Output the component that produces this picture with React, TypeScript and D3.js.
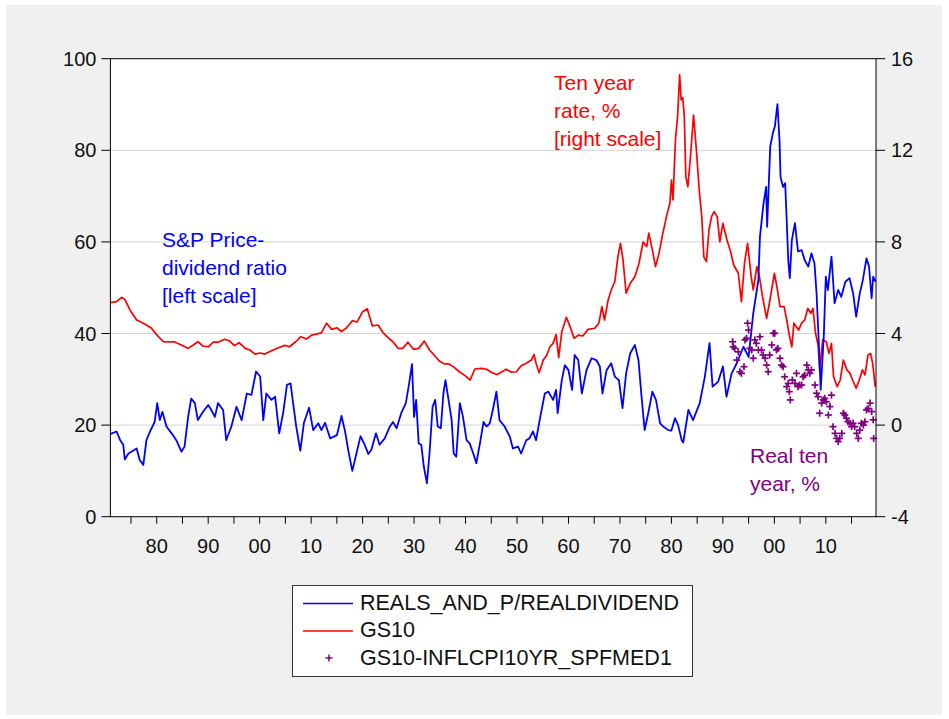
import React from "react";
import * as d3 from "d3";

// S&P real price / real dividend (left scale): [year, value]
const pdRatio: [number, number][] = [
  [1871.0, 18.0], [1871.3, 18.2], [1872.2, 18.6], [1872.9, 16.7], [1873.5, 15.7], [1873.8, 12.5],
  [1874.5, 13.8], [1876.1, 14.9], [1876.7, 12.4], [1877.4, 11.3], [1878.0, 16.7], [1878.7, 18.6],
  [1879.6, 20.7], [1880.1, 24.8], [1880.6, 21.1], [1881.1, 22.9], [1881.9, 19.7], [1882.9, 18.2],
  [1883.8, 16.7], [1884.8, 14.2], [1885.4, 15.3], [1886.1, 21.8], [1886.7, 25.8], [1887.4, 24.8],
  [1888.0, 21.1], [1889.0, 22.9], [1890.0, 24.4], [1890.6, 23.3], [1891.3, 21.8], [1891.9, 24.8],
  [1892.9, 23.3], [1893.5, 16.7], [1894.5, 19.7], [1895.5, 24.0], [1896.5, 21.1], [1897.5, 26.9],
  [1898.4, 26.6], [1899.3, 31.7], [1900.1, 30.6], [1900.7, 21.1], [1901.3, 26.9], [1902.3, 25.5],
  [1903.0, 26.2], [1903.8, 18.2], [1904.6, 22.9], [1905.3, 28.8], [1906.0, 29.1], [1906.5, 24.8],
  [1907.1, 19.7], [1907.9, 14.4], [1908.6, 20.5], [1909.6, 23.8], [1910.4, 18.9], [1911.4, 20.4],
  [1912.0, 18.9], [1912.7, 20.5], [1913.7, 17.1], [1915.0, 17.8], [1915.9, 22.0], [1916.6, 18.6],
  [1917.2, 14.6], [1918.0, 10.0], [1918.8, 13.8], [1919.6, 17.6], [1920.4, 15.7], [1921.1, 13.7],
  [1921.7, 14.6], [1922.6, 18.2], [1923.3, 15.7], [1924.3, 17.1], [1925.3, 19.7], [1925.9, 20.7],
  [1926.6, 19.3], [1927.5, 22.6], [1928.4, 24.8], [1929.0, 28.8], [1929.6, 33.3], [1930.0, 21.8],
  [1930.4, 25.5], [1930.9, 16.0], [1931.4, 15.7], [1931.9, 10.9], [1932.5, 7.3], [1933.0, 13.8],
  [1933.6, 24.0], [1934.1, 25.5], [1934.6, 19.7], [1935.2, 19.3], [1935.7, 26.9], [1936.1, 29.8],
  [1936.6, 26.2], [1937.3, 21.1], [1937.7, 13.8], [1938.2, 13.1], [1938.9, 24.8], [1939.5, 21.8],
  [1940.2, 16.7], [1940.8, 16.0], [1941.5, 13.8], [1942.1, 11.7], [1942.8, 16.0], [1943.5, 20.7],
  [1944.1, 19.7], [1944.7, 20.4], [1945.3, 23.3], [1946.0, 27.3], [1946.6, 21.1], [1947.6, 19.7],
  [1948.6, 17.5], [1949.2, 14.9], [1950.2, 15.3], [1950.8, 13.8], [1951.8, 16.7], [1952.4, 17.1],
  [1953.1, 18.6], [1953.7, 16.7], [1954.4, 21.1], [1955.4, 26.9], [1956.1, 27.3], [1957.0, 25.5],
  [1957.6, 27.7], [1957.9, 22.6], [1958.7, 29.8], [1959.3, 33.1], [1960.0, 32.0], [1960.7, 27.7],
  [1961.2, 35.3], [1961.9, 34.2], [1962.6, 26.9], [1963.5, 32.0], [1964.5, 34.6], [1965.4, 34.2],
  [1966.1, 32.8], [1966.6, 26.9], [1967.4, 32.0], [1968.3, 33.5], [1969.0, 30.6], [1969.8, 29.8],
  [1970.5, 23.7], [1971.2, 31.3], [1972.0, 35.7], [1972.9, 37.5], [1973.6, 34.2], [1974.2, 26.2],
  [1974.8, 18.9], [1975.5, 22.6], [1976.3, 27.3], [1977.0, 25.5], [1977.8, 20.4], [1978.4, 19.7],
  [1979.4, 18.9], [1980.0, 18.8], [1980.7, 21.5], [1981.3, 20.0], [1982.0, 16.7], [1982.3, 16.2],
  [1983.3, 23.3], [1984.2, 21.1], [1985.5, 24.8], [1986.5, 30.6], [1987.4, 37.9], [1988.0, 28.4],
  [1989.1, 29.5], [1990.0, 32.8], [1990.7, 26.2], [1991.7, 31.3], [1992.7, 33.5], [1994.0, 37.1],
  [1995.0, 34.9], [1995.9, 44.4], [1996.9, 51.7], [1997.2, 61.1], [1997.9, 68.4], [1998.4, 72.0],
  [1998.6, 63.3], [1999.2, 80.8], [1999.7, 83.7], [2000.1, 85.2], [2000.6, 90.1], [2001.0, 82.2],
  [2001.2, 74.2], [2001.7, 72.0], [2002.1, 72.8], [2002.4, 64.8], [2002.7, 56.0], [2003.0, 52.1],
  [2003.4, 60.4], [2004.0, 64.1], [2004.6, 57.9], [2005.3, 58.2], [2005.9, 56.0], [2006.6, 54.6],
  [2007.2, 57.5], [2007.8, 55.3], [2008.2, 48.8], [2008.7, 36.4], [2009.0, 27.7], [2009.6, 39.3],
  [2010.0, 52.4], [2010.4, 49.5], [2011.1, 56.8], [2011.7, 46.6], [2012.4, 49.5], [2013.0, 48.0],
  [2013.8, 51.3], [2014.6, 52.1], [2015.3, 48.8], [2015.9, 43.7], [2016.6, 48.8], [2017.2, 51.7],
  [2017.9, 56.4], [2018.4, 54.6], [2018.9, 47.7], [2019.2, 52.4], [2019.7, 51.3],
];

// GS10 ten-year rate, % (right scale): [year, value]
const gs10: [number, number][] = [
  [1871.0, 5.35], [1872.2, 5.39], [1873.2, 5.58], [1873.8, 5.49], [1874.8, 5.03], [1876.1, 4.59],
  [1877.4, 4.45], [1879.0, 4.23], [1880.0, 3.94], [1881.3, 3.64], [1883.5, 3.63], [1884.8, 3.5],
  [1886.1, 3.35], [1887.1, 3.5], [1888.0, 3.64], [1889.0, 3.45], [1890.0, 3.42], [1891.0, 3.62],
  [1891.9, 3.62], [1893.2, 3.75], [1894.2, 3.67], [1895.1, 3.47], [1896.0, 3.6], [1897.2, 3.35],
  [1898.1, 3.28], [1899.1, 3.1], [1900.1, 3.15], [1901.0, 3.1], [1902.3, 3.25], [1903.9, 3.4],
  [1904.9, 3.48], [1905.8, 3.42], [1907.0, 3.64], [1908.0, 3.86], [1909.1, 3.76], [1910.1, 3.93],
  [1912.0, 4.03], [1913.0, 4.45], [1914.0, 4.18], [1915.0, 4.25], [1915.9, 4.08], [1916.9, 4.25],
  [1918.0, 4.56], [1918.9, 4.5], [1920.0, 4.95], [1920.9, 5.08], [1921.9, 4.33], [1923.0, 4.37],
  [1924.0, 4.03], [1924.9, 3.83], [1925.9, 3.64], [1926.9, 3.35], [1927.8, 3.35], [1928.8, 3.62],
  [1929.9, 3.31], [1930.9, 3.35], [1932.0, 3.67], [1933.0, 3.28], [1933.9, 3.06], [1934.9, 2.8],
  [1935.9, 2.67], [1936.8, 2.67], [1937.8, 2.52], [1938.8, 2.33], [1939.9, 2.16], [1940.9, 1.97],
  [1941.8, 2.45], [1943.1, 2.48], [1944.1, 2.44], [1945.0, 2.31], [1946.0, 2.21], [1946.6, 2.26],
  [1947.9, 2.44], [1948.9, 2.31], [1949.9, 2.33], [1950.8, 2.59], [1951.8, 2.7], [1952.8, 2.84],
  [1953.3, 3.09], [1953.7, 2.7], [1954.3, 2.29], [1955.1, 2.84], [1955.8, 3.06], [1956.4, 3.42],
  [1957.0, 3.57], [1957.6, 3.95], [1958.1, 2.95], [1958.7, 4.08], [1959.6, 4.71], [1960.3, 4.3],
  [1961.1, 3.79], [1961.9, 3.93], [1962.8, 3.89], [1963.8, 4.18], [1965.1, 4.23], [1965.9, 4.45],
  [1966.5, 5.17], [1967.0, 4.59], [1967.7, 5.46], [1968.3, 5.9], [1969.0, 6.26], [1969.6, 7.35],
  [1970.1, 7.94], [1970.6, 7.21], [1971.2, 5.76], [1972.0, 6.19], [1972.9, 6.48], [1973.7, 7.06],
  [1974.5, 8.0], [1975.2, 7.79], [1975.6, 8.38], [1976.3, 7.65], [1976.9, 6.92], [1977.6, 7.5],
  [1978.2, 8.23], [1979.1, 9.17], [1979.7, 9.69], [1980.0, 10.7], [1980.3, 9.83], [1980.8, 12.52],
  [1981.2, 13.47], [1981.6, 15.3], [1981.9, 14.2], [1982.2, 14.3], [1982.5, 13.5], [1982.8, 10.85],
  [1983.2, 10.41], [1983.7, 11.72], [1984.3, 13.54], [1984.9, 11.87], [1985.4, 10.27], [1985.9, 9.1],
  [1986.3, 7.35], [1986.8, 7.14], [1987.3, 8.52], [1987.8, 9.1], [1988.3, 9.32], [1988.9, 9.1],
  [1989.4, 8.0], [1990.0, 8.81], [1990.8, 8.08], [1991.5, 7.57], [1992.1, 6.99], [1993.0, 6.63],
  [1993.6, 5.39], [1994.2, 7.07], [1994.8, 7.94], [1995.5, 6.48], [1995.9, 5.9], [1996.6, 6.92],
  [1997.1, 6.48], [1997.7, 5.61], [1998.5, 4.66], [1999.2, 5.54], [2000.0, 6.63], [2000.5, 6.04],
  [2001.1, 5.17], [2001.9, 5.17], [2002.4, 4.59], [2002.9, 3.93], [2003.4, 3.42], [2003.8, 4.45],
  [2004.7, 4.15], [2005.3, 4.45], [2005.9, 4.59], [2006.5, 5.1], [2007.1, 4.88], [2007.5, 5.1],
  [2008.0, 4.01], [2008.5, 3.5], [2008.8, 2.41], [2009.4, 3.72], [2010.1, 3.64], [2010.6, 3.13],
  [2011.1, 3.57], [2011.5, 2.11], [2012.2, 1.68], [2012.8, 1.97], [2013.4, 2.84], [2014.1, 2.41],
  [2014.7, 2.26], [2015.2, 1.97], [2015.9, 1.61], [2016.5, 1.97], [2017.1, 2.41], [2017.6, 2.19],
  [2018.2, 3.06], [2018.7, 3.13], [2019.1, 2.7], [2019.6, 1.68],
];

// GS10 minus SPF 10-yr CPI inflation expectation, % (right scale): [year, value]
const realRate: [number, number][] = [
  [1991.9, 3.64], [1992.0, 3.42], [1992.3, 3.35], [1992.7, 2.84], [1993.0, 3.2], [1993.3, 2.33],
  [1993.6, 2.26], [1994.1, 2.55], [1994.3, 3.72], [1994.6, 3.79], [1994.8, 4.45], [1995.0, 4.15],
  [1995.2, 3.35], [1995.6, 3.28], [1995.9, 2.92], [1996.2, 3.72], [1996.5, 3.57], [1996.9, 3.28],
  [1997.2, 3.86], [1997.5, 3.28], [1997.8, 3.06], [1998.2, 2.92], [1998.5, 2.62], [1998.8, 2.33],
  [1999.1, 3.06], [1999.5, 3.5], [1999.8, 4.01], [2000.1, 4.01], [2000.4, 3.28], [2000.7, 3.35],
  [2001.1, 2.92], [2001.4, 2.62], [2001.7, 2.55], [2002.0, 2.11], [2002.4, 1.68], [2002.7, 1.82],
  [2002.9, 1.46], [2003.1, 1.1], [2003.5, 1.97], [2004.0, 1.82], [2004.3, 2.26], [2004.6, 1.68],
  [2004.9, 1.75], [2005.3, 1.75], [2005.6, 2.11], [2005.9, 2.18], [2006.3, 2.62], [2006.6, 2.41],
  [2006.9, 2.26], [2007.2, 2.41], [2007.9, 1.75], [2008.2, 1.39], [2008.5, 1.24], [2008.8, 0.52],
  [2009.2, 0.96], [2009.5, 1.1], [2009.8, 1.17], [2010.1, 1.02], [2010.5, 0.44], [2010.8, 0.81],
  [2011.1, 1.31], [2011.4, -0.07], [2011.8, -0.36], [2012.1, -0.58], [2012.4, -0.72], [2012.7, -0.58],
  [2013.1, -0.36], [2013.4, 0.52], [2013.7, 0.44], [2014.0, 0.3], [2014.3, 0.15], [2014.7, 0.08],
  [2015.0, -0.07], [2015.3, 0.08], [2015.6, -0.07], [2016.0, -0.36], [2016.3, -0.58], [2016.6, -0.22],
  [2016.9, 0.08], [2017.3, 0.0], [2017.6, 0.15], [2017.9, 0.66], [2018.2, 0.73], [2018.6, 0.96],
  [2018.9, 0.59], [2019.2, 0.23], [2019.3, -0.58],
];

const leftTicks = [0, 20, 40, 60, 80, 100];
const rightTicks = [-4, 0, 4, 8, 12, 16];
const decadeTicks = [1880, 1890, 1900, 1910, 1920, 1930, 1940, 1950, 1960, 1970, 1980, 1990, 2000, 2010];
const minorTicks = [1875, 1885, 1895, 1905, 1915, 1925, 1935, 1945, 1955, 1965, 1975, 1985, 1995, 2005, 2015];
const legendLabels = ["REALS_AND_P/REALDIVIDEND", "GS10", "GS10-INFLCPI10YR_SPFMED1"];

const FONT = "'Liberation Sans', Arial, Helvetica, sans-serif";
const BLUE = "#0000ff";
const RED = "#ff0000";
const PURPLE = "#800080";

export default function App() {
  const L = 110.4, R = 876, T = 58.7, B = 516.7;
  const x = d3.scaleLinear().domain([1871, 2019.75]).range([L, R]);
  const yL = d3.scaleLinear().domain([0, 100]).range([B, T]);
  const yR = d3.scaleLinear().domain([-4, 16]).range([B, T]);

  const lineL = d3.line<[number, number]>().x((d) => x(d[0])).y((d) => yL(d[1]));
  const lineR = d3.line<[number, number]>().x((d) => x(d[0])).y((d) => yR(d[1]));

  const fmtYear = (y: number) => String(y % 100).padStart(2, "0");

  return (
    <svg width={949} height={719} style={{ position: "absolute", left: 0, top: 0 }} fontFamily={FONT}>
      <rect x={0} y={0} width={949} height={719} fill="#ffffff" />
      <rect x={6} y={5} width={936} height={710} fill="#f0f0f0" />
      <rect x={L} y={T} width={R - L} height={B - T} fill="#ffffff" />

      {/* grid */}
      {leftTicks.filter((t) => t > 0 && t < 100).map((t) => (
        <line key={"g" + t} x1={L} x2={R} y1={yL(t)} y2={yL(t)} stroke="#d4d4d4" strokeWidth={1} />
      ))}

      {/* series */}
      <path d={lineR(gs10) || ""} fill="none" stroke={RED} strokeWidth={1.7} strokeLinejoin="round" />
      <path d={lineL(pdRatio) || ""} fill="none" stroke={BLUE} strokeWidth={1.8} strokeLinejoin="round" />
      {realRate.map((d, i) => {
        const cx = x(d[0]);
        const cy = yR(d[1]);
        return (
          <g key={"p" + i} stroke={PURPLE} strokeWidth={1.7}>
            <line x1={cx - 3.5} x2={cx + 3.5} y1={cy} y2={cy} />
            <line x1={cx} x2={cx} y1={cy - 3.5} y2={cy + 3.5} />
          </g>
        );
      })}

      {/* frame */}
      <rect x={L} y={T} width={R - L} height={B - T} fill="none" stroke="#000" strokeWidth={1} />

      {/* left axis */}
      {leftTicks.map((t) => (
        <g key={"l" + t}>
          <line x1={L - 9} x2={L} y1={yL(t)} y2={yL(t)} stroke="#000" />
          <text x={L - 14} y={yL(t) + 7} textAnchor="end" fontSize={20} fill="#111">{t}</text>
        </g>
      ))}
      {/* right axis */}
      {rightTicks.map((t) => (
        <g key={"r" + t}>
          <line x1={R} x2={R + 9} y1={yR(t)} y2={yR(t)} stroke="#000" />
          <text x={R + 15} y={yR(t) + 7} textAnchor="start" fontSize={20} fill="#111">{t}</text>
        </g>
      ))}
      {/* bottom axis */}
      {[...decadeTicks, ...minorTicks].map((t) => (
        <line key={"b" + t} x1={x(t)} x2={x(t)} y1={B} y2={B + 7} stroke="#000" />
      ))}
      {decadeTicks.map((t) => (
        <text key={"bt" + t} x={x(t)} y={B + 36} textAnchor="middle" fontSize={20} fill="#111">{fmtYear(t)}</text>
      ))}

      {/* annotations */}
      <g fontSize={21} fill={BLUE}>
        <text x={162} y={247}>S&amp;P Price-</text>
        <text x={162} y={275}>dividend ratio</text>
        <text x={162} y={303}>[left scale]</text>
      </g>
      <g fontSize={21} fill={RED}>
        <text x={554} y={90}>Ten year</text>
        <text x={554} y={118}>rate, %</text>
        <text x={554} y={146}>[right scale]</text>
      </g>
      <g fontSize={21} fill={PURPLE}>
        <text x={750} y={463}>Real ten</text>
        <text x={750} y={491}>year, %</text>
      </g>

      {/* legend */}
      <rect x={292.5} y={585.5} width={400} height={91} fill="#ffffff" stroke="#333" strokeWidth={1} />
      <line x1={303} x2={353} y1={603.5} y2={603.5} stroke={BLUE} strokeWidth={1.5} />
      <line x1={303} x2={353} y1={631} y2={631} stroke={RED} strokeWidth={1.5} />
      <g stroke={PURPLE} strokeWidth={1.5}>
        <line x1={325.5} x2={332.5} y1={658} y2={658} />
        <line x1={329} x2={329} y1={654.5} y2={661.5} />
      </g>
      {legendLabels.map((s, i) => (
        <text key={s} x={360} y={609.5 + i * 27.5} fontSize={21.5} fill="#111">{s}</text>
      ))}
    </svg>
  );
}
